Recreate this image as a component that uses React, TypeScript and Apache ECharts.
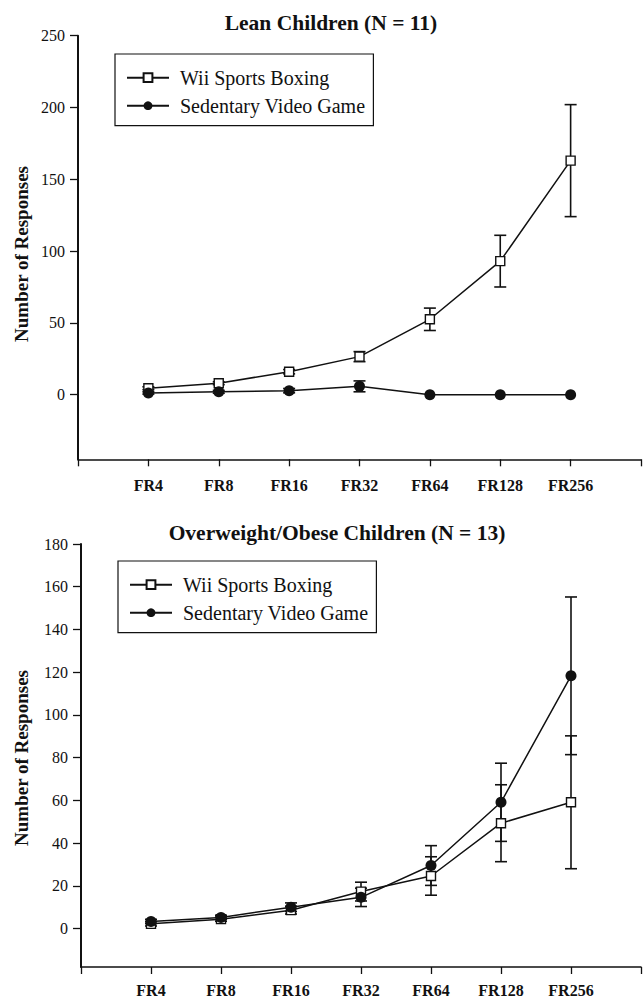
import React, { useEffect, useRef } from 'react';
import * as echarts from 'echarts';

const categories = ['FR4', 'FR8', 'FR16', 'FR32', 'FR64', 'FR128', 'FR256'];
const seriesNames = ['Wii Sports Boxing', 'Sedentary Video Game'];
const yAxisTitle = 'Number of Responses';

const leanTitle = 'Lean Children (N = 11)';
const leanWiiMean = [4.5, 8, 16, 26.5, 52.5, 93, 163];
const leanWiiErr = [1, 1, 1.5, 3.5, 7.8, 18, 39];
const leanSedMean = [1.2, 2, 2.8, 5.8, 0, 0, 0];
const leanSedErr = [0.8, 1, 1.5, 3.8, 0, 0, 0];
const leanYTicks = [0, 50, 100, 150, 200, 250];
const leanYMin = -45;
const leanYMax = 250;

const obeseTitle = 'Overweight/Obese Children (N = 13)';
const obeseWiiMean = [2.2, 4.4, 8.6, 17.3, 24.6, 49.3, 59.1];
const obeseWiiErr = [1, 1, 1.8, 4.4, 9, 18, 31.1];
const obeseSedMean = [3.3, 5.2, 10, 14.6, 29.5, 59.1, 118.3];
const obeseSedErr = [1, 1, 2, 4.3, 9.3, 18.3, 36.9];
const obeseYTicks = [0, 20, 40, 60, 80, 100, 120, 140, 160, 180];
const obeseYMin = -18;
const obeseYMax = 180;

const FONT = 'Liberation Serif';
const INK = '#111';

type Panel = {
  title: string;
  titleX: number;
  titleY: number;
  yTitleY: number;
  grid: { left: number; top: number; width: number; height: number };
  legend: { left: number; top: number };
  xLabelMargin: number;
  yMin: number;
  yMax: number;
  yTicks: number[];
  wiiMean: number[];
  wiiErr: number[];
  sedMean: number[];
  sedErr: number[];
};

const panels: Panel[] = [
  {
    title: leanTitle,
    titleX: 331,
    titleY: 23,
    yTitleY: 254,
    grid: { left: 78, top: 35.7, width: 563.7, height: 423.6 },
    legend: { left: 115, top: 54 },
    xLabelMargin: 18,
    yMin: leanYMin,
    yMax: leanYMax,
    yTicks: leanYTicks,
    wiiMean: leanWiiMean,
    wiiErr: leanWiiErr,
    sedMean: leanSedMean,
    sedErr: leanSedErr,
  },
  {
    title: obeseTitle,
    titleX: 337,
    titleY: 533,
    yTitleY: 758,
    grid: { left: 81, top: 544, width: 563, height: 423.3 },
    legend: { left: 118, top: 561 },
    xLabelMargin: 15,
    yMin: obeseYMin,
    yMax: obeseYMax,
    yTicks: obeseYTicks,
    wiiMean: obeseWiiMean,
    wiiErr: obeseWiiErr,
    sedMean: obeseSedMean,
    sedErr: obeseSedErr,
  },
];

const errorRender = (params: any, api: any) => {
  const x = api.value(0);
  const lo = api.value(1);
  const hi = api.value(2);
  if (!(hi - lo > 0)) return { type: 'group', children: [] };
  const top = api.coord([x, hi]);
  const bot = api.coord([x, lo]);
  const w = 6;
  const style = { stroke: INK, lineWidth: 1.6 };
  return {
    type: 'group',
    children: [
      { type: 'line', shape: { x1: top[0], y1: top[1], x2: bot[0], y2: bot[1] }, style },
      { type: 'line', shape: { x1: top[0] - w, y1: top[1], x2: top[0] + w, y2: top[1] }, style },
      { type: 'line', shape: { x1: bot[0] - w, y1: bot[1], x2: bot[0] + w, y2: bot[1] }, style },
    ],
  };
};

function buildOption() {
  const grid: any[] = [];
  const xAxis: any[] = [];
  const yAxis: any[] = [];
  const series: any[] = [];
  const legend: any[] = [];
  const graphic: any[] = [];

  panels.forEach((p, gi) => {
    grid.push({ ...p.grid, containLabel: false });
    xAxis.push({
      type: 'value',
      gridIndex: gi,
      min: 0,
      max: categories.length + 1,
      interval: 1,
      splitLine: { show: false },
      axisLine: { show: true, onZero: false, lineStyle: { color: INK, width: 1.5 } },
      axisTick: { show: true, length: 7, lineStyle: { color: INK, width: 1.3 } },
      axisLabel: {
        margin: p.xLabelMargin,
        fontFamily: FONT,
        fontSize: 16,
        fontWeight: 'bold',
        color: INK,
        formatter: (v: number) => categories[Math.round(v) - 1] ?? '',
      },
    });
    yAxis.push({
      type: 'value',
      gridIndex: gi,
      min: p.yMin,
      max: p.yMax,
      splitLine: { show: false },
      axisLine: { show: true, onZero: false, lineStyle: { color: INK, width: 2 } },
      axisTick: { show: true, length: 8, customValues: p.yTicks, lineStyle: { color: INK, width: 1.3 } },
      axisLabel: {
        customValues: p.yTicks,
        margin: 13,
        fontFamily: FONT,
        fontSize: 16,
        color: INK,
      },
    });

    const errData = (mean: number[], err: number[]) =>
      categories.map((_, i) => [i + 1, mean[i] - err[i], mean[i] + err[i]]);

    series.push({
      type: 'custom',
      name: 'err-wii-' + gi,
      xAxisIndex: gi,
      yAxisIndex: gi,
      renderItem: errorRender,
      encode: { x: 0, y: [1, 2] },
      data: errData(p.wiiMean, p.wiiErr),
      z: 2,
      silent: true,
    });
    series.push({
      type: 'custom',
      name: 'err-sed-' + gi,
      xAxisIndex: gi,
      yAxisIndex: gi,
      renderItem: errorRender,
      encode: { x: 0, y: [1, 2] },
      data: errData(p.sedMean, p.sedErr),
      z: 2,
      silent: true,
    });
    series.push({
      type: 'line',
      name: seriesNames[0],
      xAxisIndex: gi,
      yAxisIndex: gi,
      data: categories.map((_, i) => [i + 1, p.wiiMean[i]]),
      symbol: 'rect',
      symbolSize: 9,
      showAllSymbol: true,
      lineStyle: { color: INK, width: 1.5 },
      itemStyle: { color: '#fff', borderColor: INK, borderWidth: 1.4 },
      z: 3,
    });
    series.push({
      type: 'line',
      name: seriesNames[1],
      xAxisIndex: gi,
      yAxisIndex: gi,
      data: categories.map((_, i) => [i + 1, p.sedMean[i]]),
      symbol: 'circle',
      symbolSize: 11,
      showAllSymbol: true,
      lineStyle: { color: INK, width: 1.5 },
      itemStyle: { color: INK, borderColor: INK, borderWidth: 0 },
      z: 4,
    });

    legend.push({
      data: seriesNames,
      orient: 'vertical',
      left: p.legend.left,
      top: p.legend.top,
      padding: [13.7, 8, 10, 11],
      itemGap: 8,
      itemWidth: 42,
      itemHeight: 11,
      borderColor: INK,
      borderWidth: 1.2,
      selectedMode: false,
      textStyle: {
        fontFamily: FONT,
        fontSize: 20,
        lineHeight: 20,
        color: INK,
        padding: [0, 0, 0, 6],
      },
    });

    graphic.push({
      type: 'text',
      x: p.titleX,
      y: p.titleY,
      style: {
        text: p.title,
        fill: INK,
        fontFamily: FONT,
        fontSize: 21.5,
        fontWeight: 'bold',
        align: 'center',
        verticalAlign: 'middle',
      },
    });
    graphic.push({
      type: 'text',
      x: 21,
      y: p.yTitleY,
      rotation: Math.PI / 2,
      style: {
        text: yAxisTitle,
        fill: INK,
        fontFamily: FONT,
        fontSize: 19,
        fontWeight: 'bold',
        align: 'center',
        verticalAlign: 'middle',
      },
    });
  });

  return {
    animation: false,
    backgroundColor: '#fff',
    textStyle: { fontFamily: FONT },
    grid,
    xAxis,
    yAxis,
    series,
    legend,
    graphic,
  };
}

export default function App() {
  const ref = useRef<HTMLDivElement>(null);
  useEffect(() => {
    if (!ref.current) return;
    const chart = echarts.init(ref.current, undefined, { renderer: 'svg' });
    chart.setOption(buildOption() as any);
    return () => chart.dispose();
  }, []);
  return (
    <div
      ref={ref}
      style={{ position: 'absolute', left: 0, top: 0, width: 644, height: 998, background: '#fff' }}
    />
  );
}
